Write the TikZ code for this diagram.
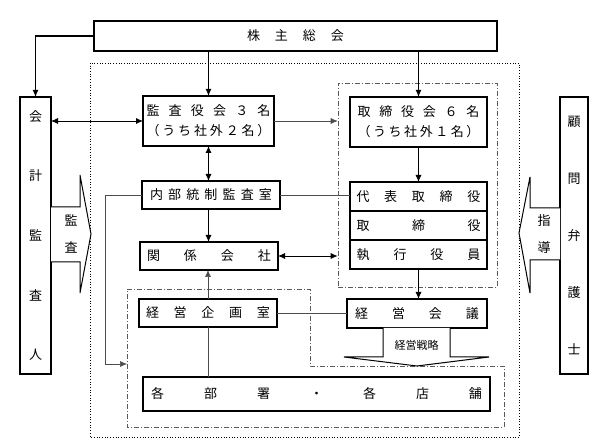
\documentclass[tikz,border=0pt]{standalone}
\usepackage{fontspec}
\setmainfont{Noto Sans CJK JP}
\usetikzlibrary{arrows.meta,positioning}

\tikzset{
  box/.style={draw, line width=1.1pt, fill=white, inner sep=0pt, outer sep=0pt,
    align=center, font=\fontsize{13}{20}\selectfont},
  frame/.style={draw=gray!70!black, line width=0.6pt,
    dash pattern=on 5pt off 2pt on 1pt off 2pt},
  thick link/.style={line width=1.1pt},
  link/.style={line width=0.8pt},
  thin link/.style={line width=0.6pt, draw=gray!60!black},
  blockarrow/.style={fill=white, draw, line width=1pt},
  tag/.style={inner sep=0pt, align=center},
}
\newcommand{\sprd}[2]{\makebox[#1]{#2}}

\begin{document}
\begin{tikzpicture}[x=1pt,y=-1pt,>={Latex[length=7pt,width=6pt]}]
\useasboundingbox (0,0) rectangle (595,443);

% frames
\draw[dotted, line width=0.7pt] (90,63) rectangle (519,437);
\node[frame, minimum width=159pt, minimum height=204pt] (boardframe) at (417.5,185) {};
\draw[frame] (127,289) -- (310,289) -- (310,366) -- (504,366) -- (504,427) -- (127,427) -- cycle;
\coordinate (mgmtin) at (127,364);
\coordinate (bend) at (105,364);

% boxes
\node[box, minimum width=403pt, minimum height=30pt] (share) at (295.5,36)
  {\sprd{97pt}{株\hfill 主\hfill 総\hfill 会}};
\node[box, minimum width=31pt, minimum height=277pt, font=\fontsize{13}{59.7}\selectfont] (auditor) at (35.5,235.5)
  {会\\計\\監\\査\\人};
\node[box, minimum width=28pt, minimum height=277pt, font=\fontsize{13}{57}\selectfont] (lawyer) at (574,235.5)
  {顧\\問\\弁\\護\\士};
\node[box, minimum width=131pt, minimum height=50pt] (kansa) at (208.5,121)
  {\sprd{124pt}{監\hfill 査\hfill 役\hfill 会\hfill ３\hfill 名}\\
   \sprd{124pt}{（\hfill う\hfill ち\hfill 社\hfill 外\hfill ２\hfill 名\hfill ）}};
\node[box, minimum width=137pt, minimum height=50pt] (board) at (418.5,122)
  {\sprd{122pt}{取\hfill 締\hfill 役\hfill 会\hfill ６\hfill 名}\\
   \sprd{122pt}{（\hfill う\hfill ち\hfill 社\hfill 外\hfill １\hfill 名\hfill ）}};
\node[box, minimum width=138pt, minimum height=28pt] (naibu) at (211,195)
  {\sprd{122pt}{内\hfill 部\hfill 統\hfill 制\hfill 監\hfill 査\hfill 室}};
\node[box, minimum width=137pt, minimum height=29pt] (rep) at (418.5,196.5)
  {\sprd{124pt}{代\hfill 表\hfill 取\hfill 締\hfill 役}};
\node[box, minimum width=137pt, minimum height=29pt] (dirs) at (418.5,225.5)
  {\sprd{124pt}{取\hfill 締\hfill 役}};
\node[box, minimum width=137pt, minimum height=29pt] (exec) at (418.5,254.5)
  {\sprd{124pt}{執\hfill 行\hfill 役\hfill 員}};
\node[box, minimum width=138pt, minimum height=28pt] (kankei) at (209,256)
  {\sprd{124pt}{関\hfill 係\hfill 会\hfill 社}};
\node[box, minimum width=138pt, minimum height=28pt] (kikaku) at (208,313)
  {\sprd{124pt}{経\hfill 営\hfill 企\hfill 画\hfill 室}};
\node[box, minimum width=140pt, minimum height=29pt] (kaigi) at (417,313.5)
  {\sprd{124pt}{経\hfill 営\hfill 会\hfill 議}};
\node[box, minimum width=347pt, minimum height=34pt] (busho) at (316.5,394)
  {\sprd{331pt}{各\hfill 部\hfill 署\hfill ・\hfill 各\hfill 店\hfill 舗}};

% block arrows
\filldraw[blockarrow] (51,207) -- (80,207) -- (80,175) -- (91,234) -- (80,293) -- (80,262) -- (51,262);
\node[tag, font=\fontsize{13}{27}\selectfont] (audittxt) at (71,234) {監\\査};
\filldraw[blockarrow] (560,208) -- (530,208) -- (530,177) -- (519,233) -- (530,293) -- (530,260) -- (560,260);
\node[tag, font=\fontsize{13}{27}\selectfont] (guidetxt) at (544,234) {指\\導};
\filldraw[blockarrow] (383,328) -- (383,357) -- (344,357) -- (417,366) -- (489,357) -- (450,357) -- (450,328);
\node[tag, font=\fontsize{11}{13}\selectfont] (strategy) at (416.5,345) {経営戦略};

% connectors
\draw[thick link, ->] (share.west) -| (auditor.north);
\draw[thick link, ->] (share.south -| kansa) -- (kansa.north);
\draw[thick link, ->] (share.south -| board) -- (board.north);
\draw[link, <->] (kansa.west) -- (kansa.west -| auditor.east);
\draw[thin link, ->] (kansa.east) -- (kansa.east -| boardframe.west);
\draw[link, <->] (kansa.south) -- (kansa.south |- naibu.north);
\draw[link, ->] (board.south) -- (rep.north);
\draw[thin link] (naibu.east) -- (naibu.east -| rep.west);
\draw[thin link, ->] (naibu.west) -| (bend) -- (mgmtin);
\draw[link, ->] (naibu.south -| kansa.south) -- (kankei.north -| kansa.south);
\draw[link, <->] (kankei.east) -- (kankei.east -| boardframe.west);
\draw[thin link, ->] (kikaku.north) -- (kikaku.north |- kankei.south);
\draw[link, ->] (exec.south) -- (exec.south |- kaigi.north);
\draw[thin link] (kikaku.east) -- (kikaku.east -| kaigi.west);
\draw[thin link] (kikaku.south) -- (kikaku.south |- busho.north);

\end{tikzpicture}
\end{document}
